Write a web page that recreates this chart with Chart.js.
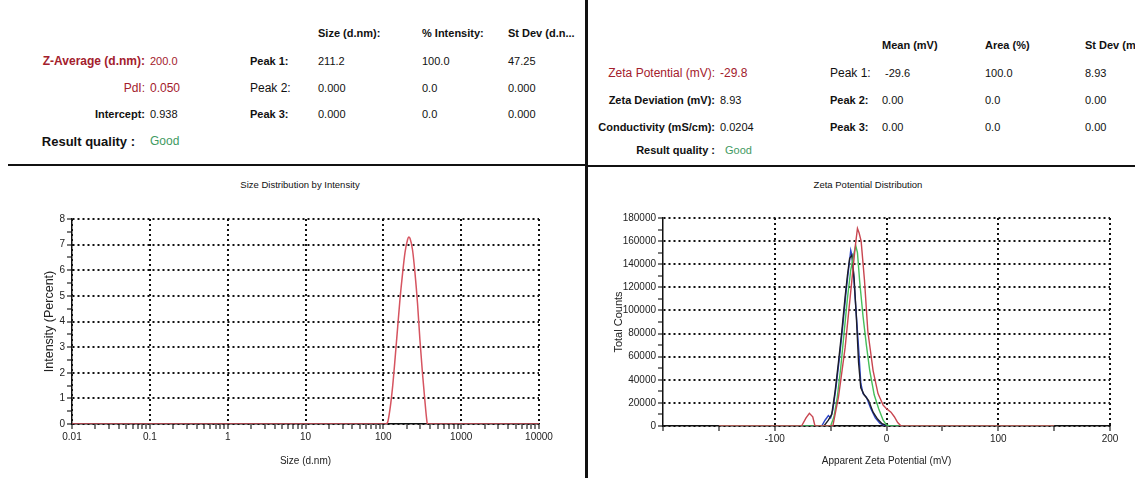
<!DOCTYPE html>
<html>
<head>
<meta charset="utf-8">
<script src="https://cdn.jsdelivr.net/npm/chart.js@4.4.1/dist/chart.umd.min.js"></script>
<style>
  html, body { margin: 0; padding: 0; background: #fff; }
  #page { position: relative; width: 1135px; height: 478px; overflow: hidden; font-family: "Liberation Sans", Arial, sans-serif; color: #111; }
  .t { position: absolute; font-size: 11px; line-height: 14px; white-space: nowrap; }
  .b { font-weight: bold; }
  .r { text-align: right; width: 200px; }
  .red { color: #a3202c; }
  .green { color: #3f9a62; }
  .rq { font-size: 13px; font-weight: bold; }
  .ttl { position: absolute; font-size: 9.5px; line-height: 12px; width: 300px; text-align: center; }
  .line { position: absolute; background: #111; }
  canvas { position: absolute; }
</style>
</head>
<body>
<div id="page">
  <!-- left header -->
  <div class="t b" style="left:318px;top:26px">Size (d.nm):</div>
  <div class="t b" style="left:422px;top:26px">% Intensity:</div>
  <div class="t b" style="left:508px;top:26px">St Dev (d.n...</div>

  <div class="t b r red" style="left:-55px;top:54px;font-size:12px">Z-Average (d.nm):</div>
  <div class="t red" style="left:150px;top:54px">200.0</div>
  <div class="t r red" style="left:-55px;top:81px;font-size:12px">PdI:</div>
  <div class="t red" style="left:150px;top:81px;font-size:12px">0.050</div>
  <div class="t b r" style="left:-55px;top:107px">Intercept:</div>
  <div class="t" style="left:150px;top:107px">0.938</div>
  <div class="t r rq" style="left:-65px;top:135px">Result quality :</div>
  <div class="t green" style="left:150px;top:134px;font-size:12px">Good</div>

  <div class="t b" style="left:250px;top:54px">Peak 1:</div>
  <div class="t" style="left:318px;top:54px">211.2</div>
  <div class="t" style="left:422px;top:54px">100.0</div>
  <div class="t" style="left:508px;top:54px">47.25</div>
  <div class="t" style="left:250px;top:81px;font-size:12px">Peak 2:</div>
  <div class="t" style="left:318px;top:81px">0.000</div>
  <div class="t" style="left:422px;top:81px">0.0</div>
  <div class="t" style="left:508px;top:81px">0.000</div>
  <div class="t b" style="left:250px;top:107px">Peak 3:</div>
  <div class="t" style="left:318px;top:107px">0.000</div>
  <div class="t" style="left:422px;top:107px">0.0</div>
  <div class="t" style="left:508px;top:107px">0.000</div>

  <!-- right header -->
  <div class="t b" style="left:882px;top:38px">Mean (mV)</div>
  <div class="t b" style="left:985px;top:38px">Area (%)</div>
  <div class="t b" style="left:1085px;top:38px">St Dev (mV)</div>

  <div class="t r red" style="left:515px;top:66px;font-size:12px">Zeta Potential (mV):</div>
  <div class="t red" style="left:720px;top:66px;font-size:12px">-29.8</div>
  <div class="t b r" style="left:515px;top:93px">Zeta Deviation (mV):</div>
  <div class="t" style="left:720px;top:93px">8.93</div>
  <div class="t b r" style="left:515px;top:120px">Conductivity (mS/cm):</div>
  <div class="t" style="left:720px;top:120px">0.0204</div>
  <div class="t b r" style="left:515px;top:143px">Result quality :</div>
  <div class="t green" style="left:725px;top:143px">Good</div>

  <div class="t" style="left:830px;top:66px;font-size:12px">Peak 1:</div>
  <div class="t" style="left:885px;top:66px">-29.6</div>
  <div class="t" style="left:985px;top:66px">100.0</div>
  <div class="t" style="left:1085px;top:66px">8.93</div>
  <div class="t b" style="left:830px;top:93px">Peak 2:</div>
  <div class="t" style="left:882px;top:93px">0.00</div>
  <div class="t" style="left:985px;top:93px">0.0</div>
  <div class="t" style="left:1085px;top:93px">0.00</div>
  <div class="t b" style="left:830px;top:120px">Peak 3:</div>
  <div class="t" style="left:882px;top:120px">0.00</div>
  <div class="t" style="left:985px;top:120px">0.0</div>
  <div class="t" style="left:1085px;top:120px">0.00</div>

  <!-- dividers -->
  <div class="line" style="left:8px;top:164px;width:578px;height:2px"></div>
  <div class="line" style="left:586px;top:165px;width:549px;height:2px"></div>
  <div class="line" style="left:585px;top:0;width:3px;height:478px"></div>

  <div class="ttl" style="left:150px;top:179px">Size Distribution by Intensity</div>
  <div class="ttl" style="left:718px;top:179px">Zeta Potential Distribution</div>

  <canvas id="sizeChart" width="585" height="308" style="left:0;top:170px"></canvas>
  <canvas id="zetaChart" width="545" height="308" style="left:590px;top:170px"></canvas>
</div>

<script>
// size distribution (d.nm vs intensity %)
const sizeValues = [0.01, 100, 106, 113, 122, 132, 142, 153, 164, 177, 190, 205, 212, 220, 237, 255, 275, 295, 318, 342, 360, 368, 10000];
const intensityValues = [0, 0, 0, 0.05, 0.6, 1.5, 2.6, 3.8, 4.9, 5.9, 6.7, 7.2, 7.3, 7.25, 6.8, 5.9, 4.7, 3.3, 2.0, 0.9, 0.2, 0, 0];
const sizeTickValues = [0.01, 0.1, 1, 10, 100, 1000, 10000];
const sizeTickLabels = ['0.01', '0.1', '1', '10', '100', '1000', '10000'];

// zeta potential runs (mV vs total counts)
const redMv = [-150, -76, -72, -69, -66, -64, -48, -46, -43, -41, -37, -34, -31, -28, -26, -24.5, -22.7, -19.7, -16.7, -12, -7.6, -3, 0, 4, 7, 10, 13, 150];
const redCounts = [0, 0, 7000, 11000, 8000, 0, 0, 10000, 25000, 39000, 68000, 97000, 126000, 155000, 171000, 167000, 160000, 126000, 82000, 48000, 28000, 18000, 15000, 12000, 8000, 3000, 0, 0];
const blueMv = [-150, -58, -55, -52, -50, -48, -45, -42, -39, -36, -34, -32, -30.5, -28, -25, -23, -21, -18, -14, -10, -6, -2, 2, 150];
const blueCounts = [0, 0, 5000, 9000, 7000, 14000, 35000, 60000, 88000, 118000, 135000, 152000, 146000, 110000, 68000, 37000, 28000, 25000, 15000, 7000, 2500, 500, 0, 0];
const blackMv = [-150, -56, -52, -49, -46, -43, -40, -37, -35, -33, -31, -29, -27, -25, -23, -20, -16, -12, -8, -4, 0, 3, 150];
const blackCounts = [0, 0, 5000, 10000, 30000, 55000, 82000, 112000, 130000, 145000, 148000, 128000, 95000, 55000, 33000, 27000, 22000, 12000, 6000, 2000, 500, 0, 0];
const greenMv = [-150, -50, -47, -44, -41, -38, -35, -32, -29, -27.5, -26, -24, -21, -18, -15, -11, -7, -3, 0, 3, 150];
const greenCounts = [0, 0, 8000, 25000, 50000, 80000, 110000, 135000, 150000, 156000, 150000, 125000, 95000, 70000, 48000, 27000, 15000, 5000, 1000, 0, 0];
const zetaTickLabels = [-100, 0, 100, 200];

const FONT = { family: '"Liberation Sans", Arial, sans-serif', size: 10 };
const GRID_DOT = '#111';

const toPoints = (xs, ys) => xs.map((x, i) => ({ x: x, y: ys[i] }));

const isDecade = v => sizeTickValues.some(d => Math.abs(v - d) / d < 1e-6);

new Chart(document.getElementById('sizeChart'), {
    type: 'line',
    data: {
        datasets: [{
            data: toPoints(sizeValues, intensityValues),
            borderColor: 'rgb(214, 84, 96)',
            borderWidth: 1.5,
            pointRadius: 0,
            cubicInterpolationMode: 'monotone',
            fill: false
        }]
    },
    options: {
        responsive: false,
        animation: false,
        layout: { padding: { left: 0, right: 46, top: 49, bottom: 0 } },
        plugins: { legend: { display: false }, tooltip: { enabled: false } },
        scales: {
            x: {
                type: 'logarithmic',
                min: 0.01,
                max: 10000,
                afterBuildTicks: scale => {
                    const ticks = [];
                    sizeTickValues.forEach((d, i) => {
                        ticks.push({ value: d });
                        if (i < sizeTickValues.length - 1) {
                            for (let k = 2; k < 10; k++) ticks.push({ value: d * k });
                        }
                    });
                    scale.ticks = ticks;
                },
                afterFit: scale => { scale.height = 54; },
                ticks: {
                    autoSkip: false,
                    maxRotation: 0,
                    padding: 2,
                    color: '#222',
                    font: FONT,
                    callback: v => {
                        const i = sizeTickValues.findIndex(d => Math.abs(v - d) / d < 1e-6);
                        return i >= 0 ? sizeTickLabels[i] : '';
                    }
                },
                grid: {
                    color: c => (c.tick && isDecade(c.tick.value)) ? GRID_DOT : 'transparent',
                    lineWidth: 2,
                    tickColor: '#222',
                    tickLength: 5,
                    tickWidth: 1.2
                },
                border: { display: true, color: '#111', width: 1.5, dash: [2, 3] },
                title: { display: true, text: 'Size (d.nm)', color: '#222', font: FONT, padding: { top: 0, bottom: 11 } }
            },
            y: {
                min: 0,
                max: 8,
                afterFit: scale => { scale.width = 72; },
                ticks: {
                    stepSize: 0.5,
                    autoSkip: false,
                    padding: 2,
                    color: '#222',
                    font: FONT,
                    callback: v => Number.isInteger(v) ? String(v) : ''
                },
                grid: {
                    color: c => (c.tick && Number.isInteger(c.tick.value)) ? GRID_DOT : 'transparent',
                    lineWidth: 2,
                    tickColor: '#222',
                    tickLength: 5,
                    tickWidth: 1.2
                },
                border: { display: true, color: '#111', width: 1.5, dash: [2, 3] },
                title: { display: true, text: 'Intensity (Percent)', color: '#222', font: { family: FONT.family, size: 12.5 }, padding: { top: 42, bottom: 0 } }
            }
        }
    }
});

const zetaRun = (xs, ys, color) => ({
    data: toPoints(xs, ys),
    borderColor: color,
    borderWidth: 1.4,
    pointRadius: 0,
    tension: 0,
    fill: false
});

new Chart(document.getElementById('zetaChart'), {
    type: 'line',
    data: {
        datasets: [
            zetaRun(redMv, redCounts, 'rgb(200, 70, 80)'),
            zetaRun(greenMv, greenCounts, 'rgb(70, 190, 90)'),
            zetaRun(blackMv, blackCounts, 'rgb(30, 30, 40)'),
            zetaRun(blueMv, blueCounts, 'rgb(45, 70, 200)')
        ]
    },
    options: {
        responsive: false,
        animation: false,
        layout: { padding: { left: 0, right: 25, top: 48, bottom: 0 } },
        plugins: { legend: { display: false }, tooltip: { enabled: false } },
        scales: {
            x: {
                type: 'linear',
                min: -200,
                max: 200,
                afterFit: scale => { scale.height = 52; },
                ticks: {
                    stepSize: 50,
                    autoSkip: false,
                    maxRotation: 0,
                    padding: 2,
                    color: '#222',
                    font: FONT,
                    callback: v => zetaTickLabels.includes(v) ? String(v) : ''
                },
                grid: {
                    color: c => (c.tick && zetaTickLabels.includes(c.tick.value)) ? GRID_DOT : 'transparent',
                    lineWidth: 2,
                    tickColor: '#222',
                    tickLength: 5,
                    tickWidth: 1.2
                },
                border: { display: true, color: '#111', width: 1.5, dash: [2, 3] },
                title: { display: true, text: 'Apparent Zeta Potential (mV)', color: '#222', font: FONT, padding: { top: 0, bottom: 11 } }
            },
            y: {
                min: 0,
                max: 180000,
                afterFit: scale => { scale.width = 73; },
                ticks: {
                    stepSize: 10000,
                    autoSkip: false,
                    padding: 2,
                    color: '#222',
                    font: FONT,
                    callback: v => (v % 20000 === 0) ? String(v) : ''
                },
                grid: {
                    color: c => (c.tick && c.tick.value % 20000 === 0) ? GRID_DOT : 'transparent',
                    lineWidth: 2,
                    tickColor: '#222',
                    tickLength: 5,
                    tickWidth: 1.2
                },
                border: { display: true, color: '#111', width: 1.5, dash: [2, 3] },
                title: { display: true, text: 'Total Counts', color: '#222', font: { family: FONT.family, size: 11 }, padding: { top: 22, bottom: 0 } }
            }
        }
    }
});
</script>
</body>
</html>
